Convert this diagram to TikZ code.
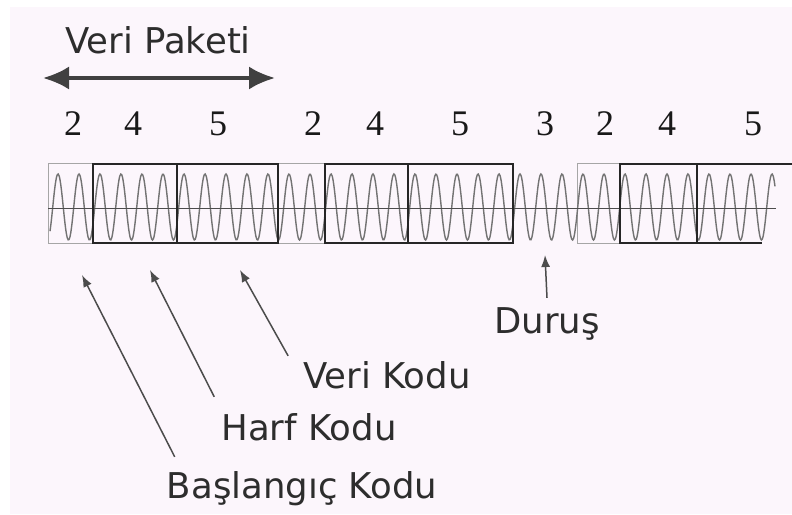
\documentclass[tikz,border=0pt]{standalone}
\usepackage{fontspec}
\setmainfont{Liberation Serif}
\newfontfamily\labelfont{DejaVu Sans}
\usetikzlibrary{arrows.meta}

\definecolor{paper}{RGB}{252,246,252}
\definecolor{ink}{RGB}{45,45,45}

\begin{document}
\begin{tikzpicture}[x=1pt,y=-1pt,
	lbl/.style={font=\labelfont\fontsize{35.5}{40}\selectfont, text=ink, anchor=base, inner sep=3pt},
	num/.style={font=\fontsize{36}{40}\selectfont, text=black!90, anchor=base, inner sep=2pt},
	pointer/.style={draw=black!70, line width=1.5pt, -{Latex[length=12pt,width=9pt]}},
	span/.style={draw=black!75, line width=3.5pt, {Latex[length=26pt,width=23pt]}-{Latex[length=26pt,width=23pt]}},
	thinbox/.style={draw=black!35, line width=1pt},
	thickbox/.style={draw=black!85, line width=2pt}]

	%paper
	\fill[white] (0,0) rectangle (792,514);
	\fill[paper] (10,7) rectangle (792,514);
	\useasboundingbox (0,0) rectangle (792,514);

	%packet label
	\node[lbl] (pkt) at (158,53) {Veri Paketi};
	\coordinate (pktL) at (43,78);
	\coordinate (pktR) at (275,78);
	\draw[span] (pktL) -- (pktR);

	%code numbers
	\node[num] (n1)  at (73,135)  {2};
	\node[num] (n2)  at (133,135) {4};
	\node[num] (n3)  at (218,135) {5};
	\node[num] (n4)  at (313,135) {2};
	\node[num] (n5)  at (375,135) {4};
	\node[num] (n6)  at (460,135) {5};
	\node[num] (n7)  at (545,135) {3};
	\node[num] (n8)  at (605,135) {2};
	\node[num] (n9)  at (667,135) {4};
	\node[num] (n10) at (753,135) {5};

	%start code boxes
	\draw[thinbox] (48,163) rectangle (93,243);
	\draw[thinbox] (278,163) rectangle (325,243);
	\draw[thinbox] (577,163) rectangle (620,243);

	%carrier wave, one period = 21
	\draw[black!55, line width=1.4pt] plot[domain=50:775, samples=800, smooth] (\x,{207-33*cos(17.142857*(\x-58))});
	\draw[black!70, line width=1pt] (48,208) -- (776,208);	%axis

	%letter and data code boxes
	\draw[thickbox] (93,164) rectangle (177,243);
	\draw[thickbox] (177,164) rectangle (278,243);
	\draw[thickbox] (325,164) rectangle (408,243);
	\draw[thickbox] (408,164) rectangle (513,243);
	\draw[thickbox] (620,164) rectangle (697,243);
	\draw[thickbox] (792,164) -- (697,164) -- (697,243) -- (762,243);

	%pause
	\node[lbl] (dur) at (547,333) {Duruş};
	\coordinate (durT) at (545,255);
	\draw[pointer] ([yshift=6pt]dur.north) -- (durT);

	%lower labels
	\node[lbl] (vk) at (387,388) {Veri Kodu};
	\node[lbl] (hk) at (309,440) {Harf Kodu};
	\node[lbl] (bk) at (302,498) {Başlangıç Kodu};
	\coordinate (vkT) at (240,270);
	\coordinate (hkT) at (150,270);
	\coordinate (bkT) at (82,275);
	\draw[pointer] ([xshift=-12pt,yshift=2pt]vk.north west) -- (vkT);
	\draw[pointer] ([xshift=-4pt,yshift=13pt]hk.north west) -- (hkT);
	\draw[pointer] ([xshift=11pt,yshift=11pt]bk.north west) -- (bkT);
\end{tikzpicture}
\end{document}
